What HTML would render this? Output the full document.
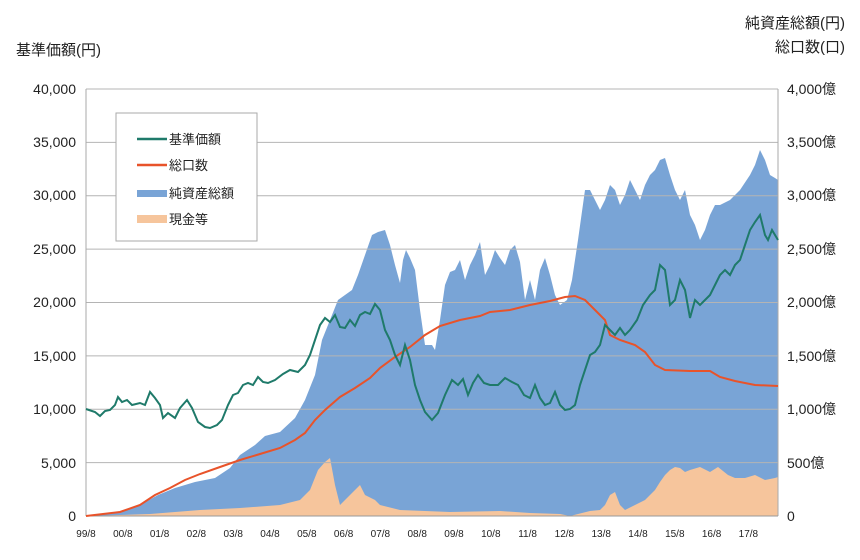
<!DOCTYPE html>
<html><head><meta charset="utf-8"><style>
body{margin:0;background:#fff;}
svg text{font-family:"Liberation Sans","Noto Sans CJK JP",sans-serif;fill:#222;}
</style></head><body>
<svg width="860" height="555" viewBox="0 0 860 555" xmlns="http://www.w3.org/2000/svg">
<rect width="860" height="555" fill="#fff"/>
<polygon fill="#79a4d6" points="86,516 100,514 122,511 140,505 158,495 175,488 195,482 215,478 230,468 240,455 255,445 265,436 280,432 295,418 305,400 315,375 322,340 330,320 338,300 345,295 352,290 358,275 365,255 372,235 378,232 385,230 390,245 395,265 400,283 403,260 406,250 410,258 415,270 420,310 425,345 432,345 435,350 440,320 445,285 450,272 455,270 460,260 465,280 470,265 475,255 480,242 485,275 490,265 495,250 500,258 505,265 510,250 515,245 520,262 525,300 530,280 535,300 540,270 545,258 550,275 555,295 560,305 567,300 572,280 578,240 585,190 590,190 595,200 600,210 605,200 610,185 615,190 620,205 625,195 630,180 635,190 640,200 645,185 650,175 655,170 660,160 665,158 670,175 675,190 680,200 685,190 690,215 695,225 700,240 705,230 710,215 715,205 720,205 730,200 740,190 750,175 755,165 760,150 765,160 770,175 775,178 778,180 778,516"/>
<polygon fill="#f6c59c" points="86,516 150,514 200,510 240,508 280,505 300,500 310,490 318,470 325,462 330,458 335,485 340,505 345,500 355,490 360,485 365,495 375,500 380,505 400,510 450,512 500,511 530,513 560,514 570,516 590,511 600,510 605,505 610,495 615,492 620,505 625,510 635,505 645,500 650,495 655,490 660,482 665,475 670,470 675,467 680,468 685,472 690,470 700,467 710,472 718,467 728,475 735,478 745,478 755,475 765,480 775,478 778,477 778,516"/>
<g stroke="#b4b4b4" stroke-width="1">
<line x1="86" y1="89" x2="778" y2="89"/><line x1="86" y1="142.4" x2="778" y2="142.4"/>
<line x1="86" y1="195.8" x2="778" y2="195.8"/><line x1="86" y1="249.1" x2="778" y2="249.1"/>
<line x1="86" y1="302.5" x2="778" y2="302.5"/><line x1="86" y1="355.9" x2="778" y2="355.9"/>
<line x1="86" y1="409.3" x2="778" y2="409.3"/><line x1="86" y1="462.6" x2="778" y2="462.6"/>
</g>
<line x1="86" y1="89" x2="86" y2="516" stroke="#aaa"/>
<line x1="778" y1="89" x2="778" y2="516" stroke="#aaa"/>
<line x1="86" y1="516" x2="778" y2="516" stroke="#999"/>
<polyline fill="none" stroke="#e8532a" stroke-width="2" points="86,516 120,512 140,505 155,495 170,488 185,480 200,474 220,467 240,460 260,454 280,448 295,440 305,433 315,420 325,410 340,397 355,388 370,378 380,368 395,357 410,347 425,335 440,326 460,320 480,316 490,312 510,310 530,305 550,301 565,297 575,296 585,300 595,310 605,320 610,335 620,340 635,345 645,352 655,365 665,370 690,371 710,371 720,377 735,381 755,385 778,386"/>
<polyline fill="none" stroke="#1f7a6a" stroke-width="2" points="86,409 95,412 100,416 105,411 110,410 115,405 118,397 122,402 127,400 132,405 140,403 145,405 150,392 155,398 160,405 163,418 168,413 175,418 180,408 187,400 192,408 198,422 205,427 210,428 217,425 222,420 228,405 233,395 238,393 243,385 248,383 253,385 258,377 263,382 268,383 275,380 283,374 290,370 298,372 305,365 310,355 315,340 320,325 325,318 330,322 335,315 340,327 345,328 350,320 355,326 360,315 365,312 370,314 375,304 380,310 385,330 390,340 395,355 400,365 405,345 410,360 415,385 420,400 425,412 432,420 438,413 445,395 452,380 458,385 463,379 468,395 473,383 478,375 484,383 490,385 498,385 505,378 512,382 518,385 524,395 530,398 535,385 540,398 545,405 550,403 555,392 560,405 565,410 570,409 575,405 580,385 585,370 590,355 595,352 600,345 605,325 610,330 615,335 620,328 625,335 630,330 637,320 643,305 650,295 655,290 660,265 665,270 670,305 675,300 680,280 685,290 690,318 695,300 700,305 705,300 710,295 715,285 720,275 725,270 730,275 735,265 740,260 745,245 750,230 755,222 760,215 765,235 768,240 772,230 778,240"/>
<rect x="116" y="113" width="141" height="128" fill="#fff" stroke="#aaa"/>
<line x1="137" y1="139" x2="167" y2="139" stroke="#1f7a6a" stroke-width="2.5"/>
<line x1="137" y1="165" x2="167" y2="165" stroke="#e8532a" stroke-width="2.5"/>
<rect x="137" y="190" width="30" height="7" fill="#79a4d6"/>
<rect x="137" y="215" width="30" height="8" fill="#f6c59c"/>
<g font-size="13"><text x="169" y="144">基準価額</text><text x="169" y="170">総口数</text><text x="169" y="198">純資産総額</text><text x="169" y="224">現金等</text></g>
<g font-size="14" text-anchor="end">
<text x="76" y="94">40,000</text><text x="76" y="147">35,000</text><text x="76" y="200">30,000</text><text x="76" y="254">25,000</text><text x="76" y="307">20,000</text><text x="76" y="361">15,000</text><text x="76" y="414">10,000</text><text x="76" y="468">5,000</text><text x="76" y="521">0</text>
</g>
<g font-size="14">
<text x="787" y="94">4,000億</text><text x="787" y="147">3,500億</text><text x="787" y="200">3,000億</text><text x="787" y="254">2,500億</text><text x="787" y="307">2,000億</text><text x="787" y="361">1,500億</text><text x="787" y="414">1,000億</text><text x="787" y="468">500億</text><text x="787" y="521">0</text>
</g>
<text x="16" y="55" font-size="15">基準価額(円)</text>
<text x="845" y="28" font-size="15" text-anchor="end">純資産総額(円)</text>
<text x="845" y="52" font-size="15" text-anchor="end">総口数(口)</text>
<g font-size="10" text-anchor="middle">
<text x="86" y="537">99/8</text><text x="122.8" y="537">00/8</text><text x="159.6" y="537">01/8</text><text x="196.4" y="537">02/8</text><text x="233.2" y="537">03/8</text><text x="270" y="537">04/8</text><text x="306.8" y="537">05/8</text><text x="343.6" y="537">06/8</text><text x="380.4" y="537">07/8</text><text x="417.2" y="537">08/8</text><text x="454" y="537">09/8</text><text x="490.8" y="537">10/8</text><text x="527.6" y="537">11/8</text><text x="564.4" y="537">12/8</text><text x="601.2" y="537">13/8</text><text x="638" y="537">14/8</text><text x="674.8" y="537">15/8</text><text x="711.6" y="537">16/8</text><text x="748.4" y="537">17/8</text>
</g>
</svg>
</body></html>
